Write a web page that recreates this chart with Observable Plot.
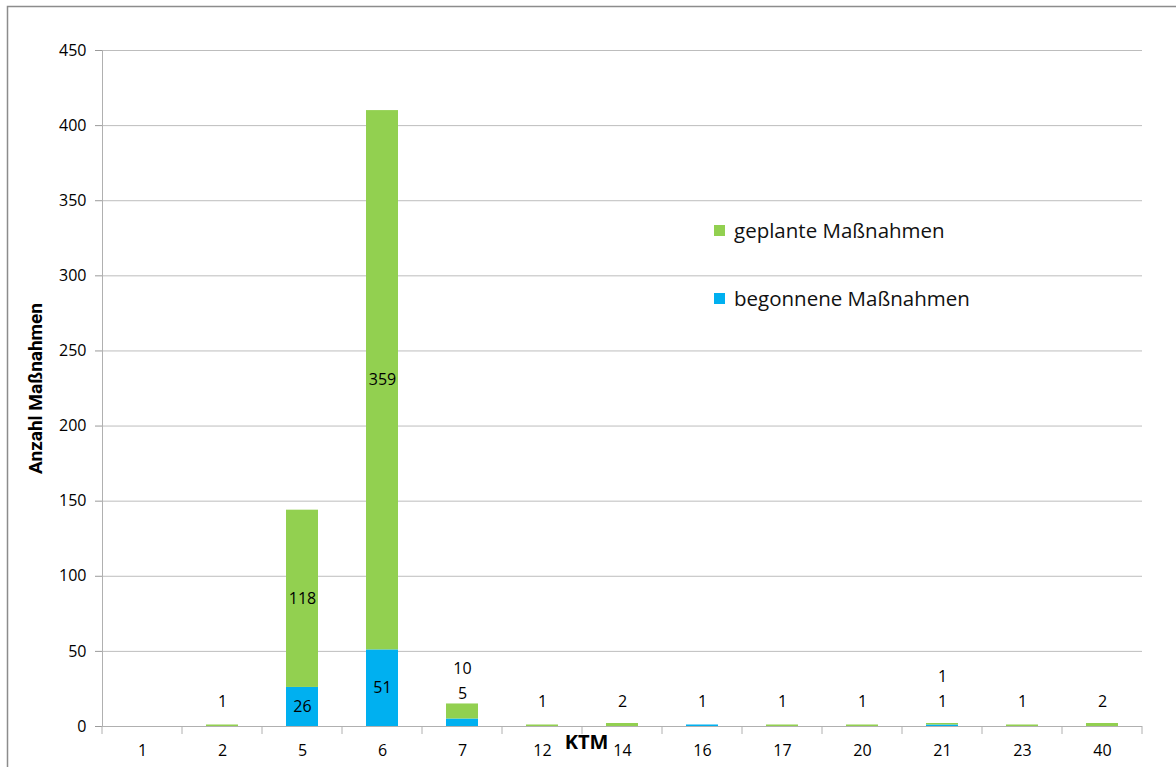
<!DOCTYPE html>
<html>
<head>
<meta charset="utf-8">
<script src="https://cdn.jsdelivr.net/npm/d3@7"></script>
<script src="https://cdn.jsdelivr.net/npm/@observablehq/plot@0.6"></script>
<style>
  html, body { margin: 0; padding: 0; background: #fff; }
  #wrap { position: relative; width: 1176px; height: 767px; overflow: hidden; }
  .legend { position: absolute; left: 714px; font-family: "Open Sans", sans-serif; font-size: 20.5px; color: #111; display: flex; align-items: center; }
  .legend span.sw { display: inline-block; width: 11px; height: 11px; margin-right: 9px; }
</style>
</head>
<body>
<div id="wrap"></div>
<script>
// KTM categories and the number of measures per category
const categories = ["1", "2", "5", "6", "7", "12", "14", "16", "17", "20", "21", "23", "40"];
const begonnen = [0, 0, 26, 51, 5, 0, 0, 1, 0, 0, 1, 0, 0];   // begonnene Maßnahmen
const geplant  = [0, 1, 118, 359, 10, 1, 2, 0, 1, 1, 1, 1, 2]; // geplante Maßnahmen
const seriesNames = ["begonnene Maßnahmen", "geplante Maßnahmen"];
const seriesColors = ["#00B0F0", "#92D050"];
const yTicks = [0, 50, 100, 150, 200, 250, 300, 350, 400, 450];

// long table for the stacked bars (begonnene at the bottom)
const rows = [];
categories.forEach((k, i) => {
  rows.push({ktm: k, serie: seriesNames[0], value: begonnen[i]});
  rows.push({ktm: k, serie: seriesNames[1], value: geplant[i]});
});

// value labels: inside the segment if tall enough, otherwise stacked above the bar
const inside = [], above0 = [], above1 = [];
categories.forEach((k, i) => {
  const vals = [begonnen[i], geplant[i]];
  const total = vals[0] + vals[1];
  let base = 0, n = 0;
  vals.forEach(v => {
    if (v > 0) {
      if (v >= 20) inside.push({ktm: k, y: base + v / 2, text: String(v)});
      else {
        (n === 0 ? above0 : above1).push({ktm: k, y: Math.max(0, total - 10), text: String(v)});
        n++;
      }
    }
    base += v;
  });
});

const font = "'Open Sans', sans-serif";

const chart = Plot.plot({
  width: 1176,
  height: 767,
  marginLeft: 102,
  marginRight: 34,
  marginTop: 50,
  marginBottom: 41,
  style: {fontFamily: font, fontSize: "16px", color: "#000", background: "#fff"},
  x: {domain: categories, paddingInner: 0.6, paddingOuter: 0.3, label: null},
  y: {domain: [0, 450], label: null},
  color: {domain: seriesNames, range: seriesColors},
  marks: [
    Plot.gridY(yTicks, {stroke: "#BDBDBD", strokeOpacity: 1}),
    Plot.axisY(yTicks, {tickSize: 7, tickPadding: 9, stroke: "#9A9A9A", fill: "#000", fontSize: 16, label: null}),
    Plot.axisX({tickSize: 0, tickPadding: 18, fill: "#000", fontSize: 16, label: null}),
    Plot.frame({anchor: "left", stroke: "#B0B0B0"}),
    Plot.ruleY([0], {stroke: "#B0B0B0"}),
    Plot.barY(rows, Plot.stackY({x: "ktm", y: "value", fill: "serie", order: seriesNames})),
    Plot.text(inside, {x: "ktm", y: "y", text: "text", fontSize: 16, fill: "#000"}),
    Plot.text(above0, {x: "ktm", y: "y", text: "text", dy: -25, fontSize: 16, fill: "#000"}),
    Plot.text(above1, {x: "ktm", y: "y", text: "text", dy: -50, fontSize: 16, fill: "#000"}),
    Plot.text(["Anzahl Maßnahmen"], {frameAnchor: "left", textAnchor: "middle", rotate: -90, dx: -67, fontWeight: "bold", fontSize: 19, fontFamily: "'Liberation Sans Narrow', 'Roboto', sans-serif", fill: "#000"}),
    Plot.text(["KTM"], {frameAnchor: "bottom", dx: -36, dy: 22, fontWeight: "bold", fontSize: 20, fill: "#000"})
  ]
});

// category separator ticks below the x axis, taken from the band scale
const xs = chart.scale("x");
const ys = chart.scale("y");
const y0 = ys.apply(0);
const gap = xs.step * xs.paddingInner / 2;
const bounds = categories.map(k => xs.apply(k) - gap);
bounds.push(xs.apply(categories[categories.length - 1]) + xs.bandwidth + gap);
const svg = d3.select(chart);
svg.append("g")
  .attr("stroke", "#B0B0B0")
  .selectAll("line")
  .data(bounds)
  .join("line")
  .attr("x1", d => d).attr("x2", d => d)
  .attr("y1", y0).attr("y2", y0 + 8);

// outer chart border
svg.append("rect")
  .attr("x", 7.5).attr("y", 6.5)
  .attr("width", 1200).attr("height", 800)
  .attr("fill", "none").attr("stroke", "#8C8C8C").attr("stroke-width", 1.5);

const wrap = document.getElementById("wrap");
wrap.appendChild(chart);

// legend placed inside the plot area
const legendItems = [
  {label: seriesNames[1], color: seriesColors[1], top: 216},
  {label: seriesNames[0], color: seriesColors[0], top: 284}
];
legendItems.forEach(it => {
  const d = document.createElement("div");
  d.className = "legend";
  d.style.top = it.top + "px";
  d.innerHTML = `<span class="sw" style="background:${it.color}"></span>${it.label}`;
  wrap.appendChild(d);
});
</script>
</body>
</html>
